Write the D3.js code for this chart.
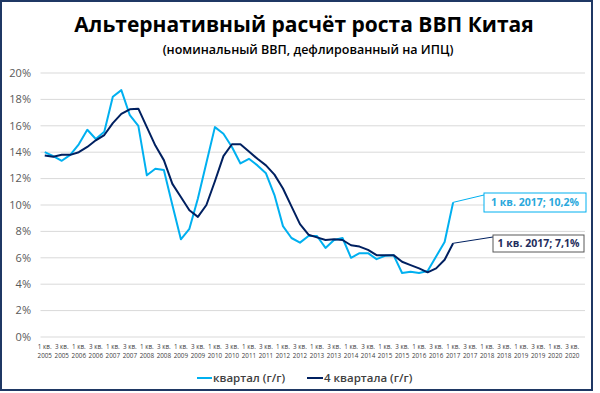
<!DOCTYPE html>
<html>
<head>
<meta charset="utf-8">
<script src="https://cdn.jsdelivr.net/npm/d3@7"></script>
<style>
  body { margin: 0; background: #fff; }
  svg { display: block; font-family: "Open Sans", "Noto Sans", sans-serif; }
</style>
</head>
<body>
<svg width="600" height="393"></svg>
<script>
const years = d3.range(2005, 2021);
const quarterNames = ["1 кв.", "2 кв.", "3 кв.", "4 кв."];

// квартал (г/г), from 1 кв. 2005 to 1 кв. 2017
const quarterly = [
  14.0, 13.7, 13.35, 13.8, 14.6, 15.7, 15.0, 15.55,
  18.2, 18.7, 16.8, 16.0, 12.25, 12.75, 12.65, 10.0,
  7.4, 8.2, 10.5, 13.2, 15.9, 15.4, 14.4, 13.15,
  13.5, 13.0, 12.4, 10.75, 8.4, 7.5, 7.15, 7.65,
  7.65, 6.75, 7.35, 7.5, 6.0, 6.35, 6.35, 5.9,
  6.15, 6.2, 4.85, 4.95, 4.85, 5.0, 6.1, 7.2,
  10.2
];

// 4 квартала (г/г)
const fourQuarters = [
  13.75, 13.65, 13.8, 13.8, 14.0, 14.4, 14.9, 15.3,
  16.2, 16.9, 17.25, 17.3, 15.9, 14.5, 13.4, 11.6,
  10.6, 9.6, 9.1, 10.0, 11.8, 13.7, 14.6, 14.6,
  14.05, 13.5, 13.0, 12.3, 11.25, 9.9, 8.55, 7.75,
  7.55, 7.35, 7.4, 7.35, 6.95, 6.85, 6.6, 6.2,
  6.2, 6.2, 5.7, 5.45, 5.2, 4.9, 5.2, 5.85,
  7.1
];

const yTicks = [0, 2, 4, 6, 8, 10, 12, 14, 16, 18, 20];

const series = [
  { name: "квартал (г/г)", values: quarterly, color: "#00b0f0", label: "1 кв. 2017; 10,2%" },
  { name: "4 квартала (г/г)", values: fourQuarters, color: "#002060", label: "1 кв. 2017; 7,1%" }
];

const quarters = [];
years.forEach((y) => {
  quarterNames.forEach((q) => quarters.push({ q: q, year: y, key: q + " " + y }));
});

const svg = d3.select("svg");

// outer frame
svg.append("rect")
  .attr("x", 1).attr("y", 1)
  .attr("width", 591).attr("height", 389)
  .attr("fill", "#fff")
  .attr("stroke", "#1f3864")
  .attr("stroke-width", 2);

const plotLeft = 40.5, plotRight = 585, plotTop = 73, plotBottom = 337;

const x = d3.scalePoint()
  .domain(quarters.map((d) => d.key))
  .range([plotLeft, plotRight])
  .padding(0.5);

const y = d3.scaleLinear()
  .domain([0, 20])
  .range([plotBottom, plotTop]);

// gridlines
svg.append("g")
  .selectAll("line")
  .data(yTicks)
  .enter().append("line")
  .attr("x1", plotLeft).attr("x2", plotRight)
  .attr("y1", (d) => y(d)).attr("y2", (d) => y(d))
  .attr("stroke", "#d9d9d9")
  .attr("stroke-width", 1);

// y labels
svg.append("g")
  .selectAll("text")
  .data(yTicks)
  .enter().append("text")
  .attr("x", 31)
  .attr("y", (d) => y(d))
  .attr("dy", "0.35em")
  .attr("text-anchor", "end")
  .attr("font-size", 11)
  .attr("fill", "#595959")
  .text((d) => d + "%");

// x labels, every other quarter
const xl = svg.append("g")
  .selectAll("text")
  .data(quarters.filter((d, i) => i % 2 === 0))
  .enter().append("text")
  .attr("text-anchor", "middle")
  .attr("font-size", 6.3)
  .attr("fill", "#404040");
xl.append("tspan")
  .attr("x", (d) => x(d.key))
  .attr("y", 349)
  .text((d) => d.q);
xl.append("tspan")
  .attr("x", (d) => x(d.key))
  .attr("y", 357.5)
  .text((d) => d.year);

// lines
const line = d3.line()
  .x((d, i) => x(quarters[i].key))
  .y((d) => y(d));

series.forEach((s) => {
  svg.append("path")
    .datum(s.values)
    .attr("fill", "none")
    .attr("stroke", s.color)
    .attr("stroke-width", 2)
    .attr("stroke-linejoin", "round")
    .attr("d", line);
});

// callouts
const callouts = [
  { s: series[0], bx: 484, by: 193, bw: 102, bh: 19, stroke: "#00b0f0", text: "#29a8dc" },
  { s: series[1], bx: 493, by: 235, bw: 91, bh: 17, stroke: "#595959", text: "#1f2d5c" }
];
callouts.forEach((c) => {
  const last = c.s.values.length - 1;
  const px = x(quarters[last].key), py = y(c.s.values[last]);
  svg.append("line")
    .attr("x1", px).attr("y1", py)
    .attr("x2", c.bx).attr("y2", c.by + 2)
    .attr("stroke", c.s.color)
    .attr("stroke-width", 1);
  svg.append("rect")
    .attr("x", c.bx).attr("y", c.by)
    .attr("width", c.bw).attr("height", c.bh)
    .attr("fill", "#fff")
    .attr("stroke", c.stroke)
    .attr("stroke-width", 1);
  svg.append("text")
    .attr("x", c.bx + c.bw / 2)
    .attr("y", c.by + c.bh / 2)
    .attr("dy", "0.35em")
    .attr("text-anchor", "middle")
    .attr("font-size", 10.5)
    .attr("font-weight", "bold")
    .attr("fill", c.text)
    .text(c.s.label);
});

// title
svg.append("text")
  .attr("x", 304).attr("y", 32)
  .attr("text-anchor", "middle")
  .attr("font-size", 21)
  .attr("font-weight", "bold")
  .attr("fill", "#000")
  .text("Альтернативный расчёт роста ВВП Китая");

svg.append("text")
  .attr("x", 308).attr("y", 54)
  .attr("text-anchor", "middle")
  .attr("font-size", 12.5)
  .attr("font-weight", 600)
  .attr("fill", "#000")
  .text("(номинальный ВВП, дефлированный на ИПЦ)");

// legend
const legendItems = [
  { s: series[0], x1: 197, x2: 212 },
  { s: series[1], x1: 307, x2: 323 }
];
legendItems.forEach((d) => {
  svg.append("line")
    .attr("x1", d.x1).attr("x2", d.x2)
    .attr("y1", 378).attr("y2", 378)
    .attr("stroke", d.s.color)
    .attr("stroke-width", 2);
  svg.append("text")
    .attr("x", d.x2 + 1)
    .attr("y", 378)
    .attr("dy", "0.35em")
    .attr("font-size", 11.5)
    .attr("font-weight", 600)
    .attr("fill", "#404040")
    .text(d.s.name);
});
</script>
</body>
</html>
